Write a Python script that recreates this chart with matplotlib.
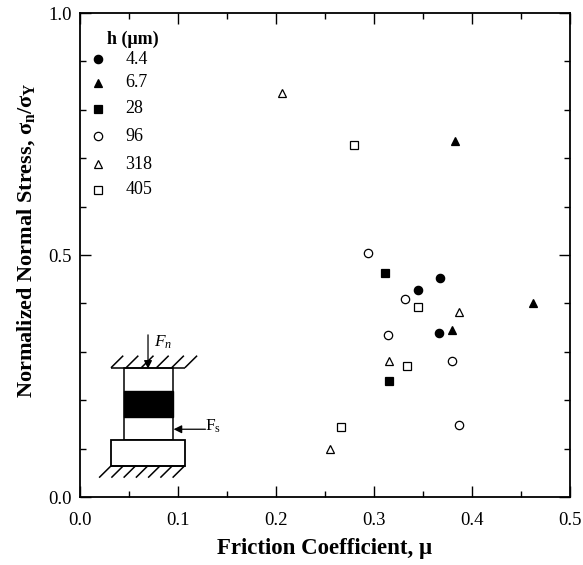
import matplotlib
matplotlib.use('Agg')
import matplotlib.pyplot as plt
from matplotlib.patches import Rectangle
from matplotlib.ticker import MultipleLocator

plt.rcParams['font.family'] = ['Liberation Serif', 'DejaVu Serif']
plt.rcParams['mathtext.fontset'] = 'custom'
plt.rcParams['mathtext.rm'] = 'Liberation Serif:bold'
plt.rcParams['mathtext.it'] = 'Liberation Serif:bold'
plt.rcParams['mathtext.bf'] = 'Liberation Serif:bold'

# thickness labels and marker styles, same order as the legend
thickness = ['4.4', '6.7', '28', '96', '318', '405']
markers = ['o', '^', 's', 'o', '^', 's']
filled = [True, True, True, False, False, False]

mu = [
    [0.345, 0.367, 0.366],
    [0.383, 0.462, 0.380],
    [0.311, 0.315],
    [0.294, 0.332, 0.314, 0.380, 0.387],
    [0.206, 0.387, 0.315, 0.255],
    [0.280, 0.345, 0.334, 0.266],
]
stress = [
    [0.428, 0.452, 0.338],
    [0.735, 0.400, 0.345],
    [0.462, 0.240],
    [0.505, 0.410, 0.335, 0.280, 0.148],
    [0.835, 0.383, 0.280, 0.100],
    [0.727, 0.392, 0.270, 0.145],
]

fig = plt.figure(figsize=(5.83, 5.65), dpi=100)
ax = fig.add_axes([80/583, 1-497/565, 490/583, 484/565])

for i in range(len(thickness)):
    face = 'black' if filled[i] else 'white'
    ax.plot(mu[i], stress[i], linestyle='none', marker=markers[i], ms=6,
            mfc=face, mec='black', mew=0.9, zorder=3)

ax.set_xlim(0, 0.5)
ax.set_ylim(0, 1)
ax.xaxis.set_major_locator(MultipleLocator(0.1))
ax.xaxis.set_minor_locator(MultipleLocator(0.05))
ax.yaxis.set_major_locator(MultipleLocator(0.5))
ax.yaxis.set_minor_locator(MultipleLocator(0.1))
ax.tick_params(which='major', direction='in', length=8, width=1, top=True, right=True, labelsize=13.5)
ax.tick_params(which='minor', direction='in', length=4, width=1, top=True, right=True)
ax.tick_params(axis='x', which='major', pad=11)
ax.tick_params(axis='y', which='major', pad=6)
for s in ax.spines.values():
    s.set_linewidth(1.3)

ax.set_xlabel('Friction Coefficient, μ', fontsize=16.5, fontweight='bold', labelpad=6)
ax.set_ylabel(r'Normalized Normal Stress, $\sigma_n/\sigma_Y$', fontsize=16, fontweight='bold', labelpad=8, y=0.531)

# hand made legend in the top left corner
ax.text(0.0275, 0.945, 'h (μm)', fontsize=13, fontweight='bold', va='center')
leg_y = [0.904, 0.856, 0.802, 0.745, 0.687, 0.635]
for i, y in enumerate(leg_y):
    face = 'black' if filled[i] else 'white'
    ax.plot([0.0185], [y], marker=markers[i], ms=6, mfc=face, mec='black', mew=0.9, linestyle='none')
    ax.text(0.0465, y, thickness[i], fontsize=13, va='center')

# compression-shear specimen sketch
kw = dict(color='black', lw=1.1, solid_capstyle='butt')
ax.add_patch(Rectangle((0.045, 0.118), 0.0495, 0.149, fc='white', ec='black', lw=1.1))
ax.add_patch(Rectangle((0.045, 0.166), 0.0495, 0.052, fc='black', ec='black', lw=1))
ax.add_patch(Rectangle((0.0316, 0.065), 0.0755, 0.053, fc='white', ec='black', lw=1.3))
ax.plot([0.0316, 0.107], [0.267, 0.267], **kw)
for x in [0.0316, 0.047, 0.0625, 0.078, 0.0935, 0.107]:
    ax.plot([x, x+0.0125], [0.267, 0.292], **kw)
ax.plot([0.0316, 0.107], [0.065, 0.065], **kw)
for x in [0.0195, 0.032, 0.0445, 0.057, 0.0695, 0.082, 0.0945]:
    ax.plot([x, x+0.0125], [0.04, 0.065], **kw)
ax.annotate('', xy=(0.0694, 0.265), xytext=(0.0694, 0.335),
            arrowprops=dict(arrowstyle='-|>', color='black', lw=0.9, mutation_scale=12, shrinkA=0, shrinkB=0))
ax.annotate('', xy=(0.0955, 0.14), xytext=(0.128, 0.14),
            arrowprops=dict(arrowstyle='-|>', color='black', lw=0.9, mutation_scale=12, shrinkA=0, shrinkB=0))
ax.text(0.0755, 0.32, r'$\mathregular{F_n}$', fontsize=12.5, style='italic', va='center')
ax.text(0.128, 0.147, r'$\mathregular{F_s}$', fontsize=12.5, va='center')

fig.savefig('out.png', dpi=100)
